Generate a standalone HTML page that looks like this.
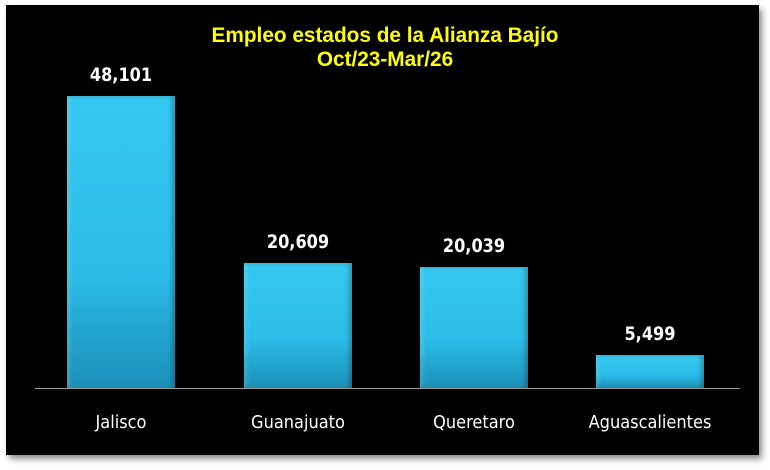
<!DOCTYPE html>
<html><head><style>
body{margin:0;width:770px;height:470px;background:#fff;overflow:hidden;position:relative;font-family:"Liberation Sans",sans-serif}
#box{position:absolute;left:6px;top:5px;width:753px;height:450px;background:#000;box-shadow:3px 4px 6px rgba(0,0,0,.45)}
.t{position:absolute;left:0;width:770px;text-align:center;color:#ffff00;font-weight:bold;font-size:21px;font-family:"Liberation Sans Narrow","Liberation Sans",sans-serif;transform:scaleX(.99)}
.bar{position:absolute;width:108px;background:linear-gradient(to bottom,#35c8f0 0%,#2bbde8 60%,#1a90b8 100%);box-shadow:inset -3px 0 4px rgba(0,0,0,.25),inset 3px 0 4px rgba(255,255,255,.15)}
.v{position:absolute;width:108px;text-align:center;color:#fff;font-weight:bold;font-size:19px;font-family:"DejaVu Sans","Liberation Sans",sans-serif;transform:scaleX(.85)}
.c{position:absolute;width:200px;text-align:center;color:#fff;font-size:18px;font-family:"DejaVu Sans","Liberation Sans",sans-serif;transform:scaleX(.9)}
#ax{position:absolute;left:35px;top:388px;width:705px;height:1px;background:#999}
</style></head><body>
<div id="box"></div>
<div class="t" style="top:24px">Empleo estados de la Alianza Bajío</div>
<div class="t" style="top:48px">Oct/23-Mar/26</div>
<div class="bar" style="left:67px;top:96px;height:292px"></div>
<div class="bar" style="left:244px;top:263px;height:125px"></div>
<div class="bar" style="left:420px;top:267px;height:121px"></div>
<div class="bar" style="left:596px;top:355px;height:33px"></div>
<div id="ax"></div>
<div class="v" style="left:67px;top:64px">48,101</div>
<div class="v" style="left:244px;top:231px">20,609</div>
<div class="v" style="left:420px;top:235px">20,039</div>
<div class="v" style="left:596px;top:323px">5,499</div>
<div class="c" style="left:21px;top:412px">Jalisco</div>
<div class="c" style="left:198px;top:412px">Guanajuato</div>
<div class="c" style="left:374px;top:412px">Queretaro</div>
<div class="c" style="left:550px;top:412px">Aguascalientes</div>
</body></html>
